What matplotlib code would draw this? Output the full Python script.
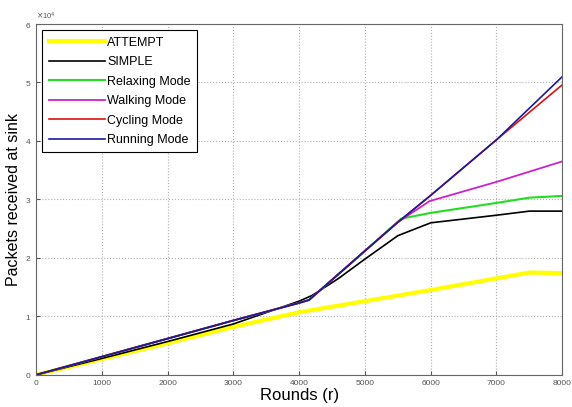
import matplotlib
matplotlib.use("Agg")
import matplotlib.pyplot as plt

plt.rcParams["font.family"] = ["Liberation Sans", "DejaVu Sans"]

# rounds sampled along each curve
rounds_attempt = [0, 1000, 2000, 3000, 4000, 5000, 6000, 7000, 7500, 8000]
attempt = [0, 2700, 5400, 8200, 10700, 12600, 14500, 16500, 17500, 17400]

rounds_simple = [0, 1000, 2000, 3000, 4000, 4200, 4600, 5000, 5500, 6000, 7000, 7500, 8000]
simple = [0, 2800, 5700, 8700, 12600, 13600, 16500, 19800, 23800, 26000, 27300, 28000, 28000]

rounds_relax = [0, 1000, 2000, 3000, 4000, 4150, 5000, 5450, 5550, 6000, 7000, 7500, 8000]
relaxing = [0, 3100, 6200, 9300, 12300, 12800, 21200, 25700, 26700, 27700, 29400, 30300, 30600]

rounds_walk = [0, 1000, 2000, 3000, 4000, 4150, 5000, 5500, 5980, 7000, 8000]
walking = [0, 3100, 6200, 9300, 12300, 12800, 21200, 26100, 29700, 33000, 36500]

rounds_cycle = [0, 1000, 2000, 3000, 4000, 4150, 5000, 5500, 6000, 7000, 8000]
cycling = [0, 3100, 6200, 9300, 12300, 12800, 21200, 26100, 30700, 40200, 49600]

rounds_run = [0, 1000, 2000, 3000, 4000, 4150, 5000, 5500, 6000, 7000, 8000]
running = [0, 3100, 6200, 9300, 12300, 12800, 21200, 26100, 30700, 40200, 51000]

fig = plt.figure(figsize=(5.72, 4.07), dpi=100)
ax = fig.add_axes([0.063, 0.079, 0.92, 0.862])

ax.plot(rounds_attempt, attempt, color="#ffff00", lw=3, label="ATTEMPT")
ax.plot(rounds_simple, simple, color="black", lw=1.2, label="SIMPLE")
ax.plot(rounds_relax, relaxing, color="#22dd22", lw=1.5, label="Relaxing Mode")
ax.plot(rounds_walk, walking, color="#cc22cc", lw=1.3, label="Walking Mode")
ax.plot(rounds_cycle, cycling, color="#dd1111", lw=1.2, label="Cycling Mode")
ax.plot(rounds_run, running, color="#1a1aa0", lw=1.2, label="Running Mode")

ax.set_xlim(0, 8000)
ax.set_ylim(0, 60000)
ax.set_xticks(range(0, 8001, 1000))
ax.set_yticks(range(0, 60001, 10000))
ax.ticklabel_format(axis="y", style="sci", scilimits=(0, 0), useMathText=True)
ax.yaxis.get_offset_text().set_fontsize(5.5)
ax.tick_params(direction="in", labelsize=6, colors="#555555", length=3)
ax.grid(True, linestyle=":", color="#b0b0b0", lw=0.8)
for s in ax.spines.values():
    s.set_color("#666666")

ax.set_xlabel("Rounds (r)", fontsize=12, labelpad=1)
ax.set_ylabel("Packets received at sink", fontsize=11.5, labelpad=3)

leg = ax.legend(loc="upper left", fontsize=9, handlelength=4.5, fancybox=False,
                framealpha=1, edgecolor="black", borderaxespad=0.5,
                labelspacing=0.6, handletextpad=0.2, borderpad=0.5)
leg.get_frame().set_linewidth(0.8)

plt.savefig("out.png", dpi=100)
